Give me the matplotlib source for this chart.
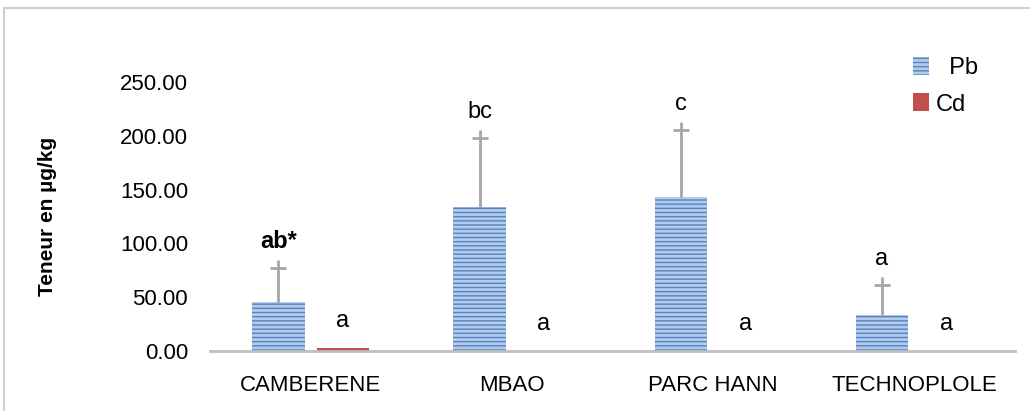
import numpy as np
import matplotlib.pyplot as plt
import matplotlib.transforms as mtransforms
from matplotlib.patches import Rectangle

plt.rcParams['font.family'] = ['Liberation Sans', 'DejaVu Sans']
plt.rcParams['hatch.linewidth'] = 2.0

sites = ["CAMBERENE", "MBAO", "PARC HANN", "TECHNOPLOLE"]
pb = [45.5, 134, 143, 33.5]
pb_err_top = [85, 206, 213, 69]
cd = [3.0, 0.3, 0.3, 0.3]
pb_letters = ["ab*", "bc", "c", "a"]
cd_letters = ["a", "a", "a", "a"]
yticks = [0, 50, 100, 150, 200, 250]

fig = plt.figure(figsize=(10.3, 4.11), dpi=100)
fig.patches.append(Rectangle((0.004, -0.1), 1.2, 1.08, transform=fig.transFigure,
                             fill=False, edgecolor="#d0d0d0", lw=1.5))
ax = fig.add_axes([0.204, 0.146, 0.781, 0.654])

x = np.arange(len(sites))
w = 0.26
ax.bar(x - 0.16, pb, w, color="#5283C2", edgecolor="#B3CAEA", hatch="----",
       linewidth=0, label="  Pb")
ax.bar(x + 0.16, cd, w, color="#C0504D", edgecolor="#D99694", linewidth=0, label="Cd")

# error bars (upper only) with the cap sitting a little below the top
err = np.array(pb_err_top) - np.array(pb)
ax.errorbar(x - 0.16, pb, yerr=[np.zeros(4), err], fmt="none", ecolor="#A6A6A6",
            elinewidth=2, capsize=0)
cap_tr = mtransforms.offset_copy(ax.transData, fig=fig, x=0, y=-6, units="points")
ax.plot(x - 0.16, pb_err_top, linestyle="none", marker="_", markersize=11,
        markeredgewidth=2, color="#A6A6A6", transform=cap_tr)

for i in range(len(sites)):
    ax.annotate(pb_letters[i], (x[i] - 0.16, pb_err_top[i]), xytext=(0, 5),
                textcoords="offset points", ha="center", va="bottom", fontsize=17,
                fontweight="bold" if i == 0 else "normal", annotation_clip=False)
    ax.annotate(cd_letters[i], (x[i] + 0.16, cd[i]), xytext=(0, 11),
                textcoords="offset points", ha="center", va="bottom", fontsize=17,
                annotation_clip=False)

ax.set_xlim(-0.5, 3.5)
ax.set_ylim(0, 250)
ax.set_yticks(yticks)
ax.set_yticklabels([f"{v:.2f}" for v in yticks], fontsize=16)
ax.set_xticks(x)
ax.set_xticklabels(sites, fontsize=16)
ax.tick_params(length=0, pad=16, axis="y")
ax.tick_params(length=0, pad=17, axis="x")
for s in ["top", "right", "left"]:
    ax.spines[s].set_visible(False)
ax.spines["bottom"].set_color("#BFBFBF")
ax.spines["bottom"].set_linewidth(2)
ax.set_ylabel("Teneur en µg/kg", fontsize=15, fontweight="bold")
ax.yaxis.set_label_coords(-0.19, 0.5)

fig.legend(loc="upper left", bbox_to_anchor=(0.866, 0.913), frameon=False, fontsize=17,
           handlelength=0.65, handleheight=0.8, handletextpad=0.3, labelspacing=0.6)

fig.savefig("out.png", dpi=100)
